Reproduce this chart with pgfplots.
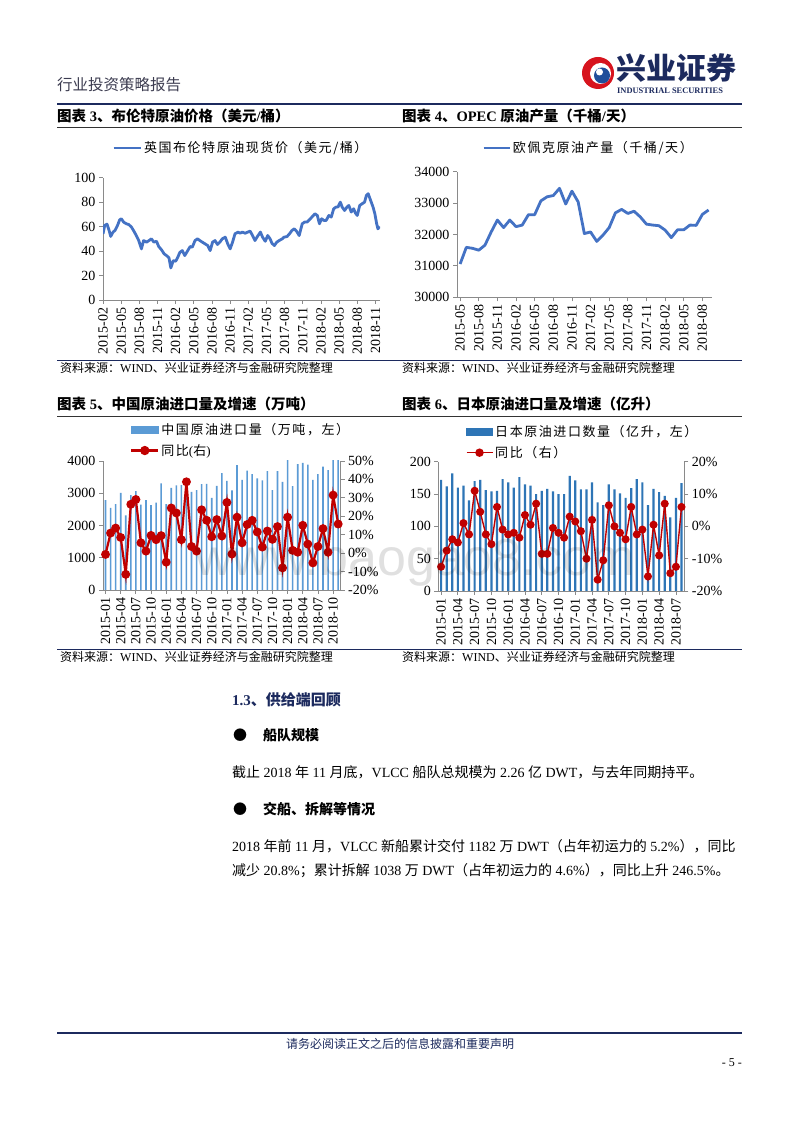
\documentclass[border=0pt]{standalone}
\usepackage{fontspec}
\usepackage{pgfplots}
\usepackage{pgfplotstable}
\pgfplotsset{compat=1.18}
\setmainfont{Liberation Serif}
\newfontfamily\cjk{Noto Sans CJK SC}
\newfontfamily\cjkwide[LetterSpace=12]{Noto Sans CJK SC}
\newfontfamily\wmfont{Liberation Sans}
\newcommand\zh[1]{{\cjk #1}}
\newcommand\fs[1]{\fontsize{#1}{#1}\selectfont}
\definecolor{navy}{HTML}{1C2A5E}
\definecolor{hdrgray}{HTML}{3C3C50}
\definecolor{axisgray}{HTML}{8A8A8A}
\definecolor{brentblue}{HTML}{4472C4}
\definecolor{chinabar}{HTML}{5B9BD5}
\definecolor{japanbar}{HTML}{2E75B6}
\definecolor{redc}{HTML}{C00000}
\definecolor{logored}{HTML}{D7141E}
\definecolor{logoblue}{HTML}{1F4E9A}

\pgfplotstableread{
m v
0 54
0.28 61
0.66 62
1.0 57
1.27 52
1.66 55.5
2.0 57
2.4 61
2.76 65.6
3.04 66.4
3.4 63.7
3.87 62.3
4.25 61.7
4.7 59.6
5.1 56.3
5.5 52.7
5.9 48.6
6.35 41.8
6.7 48.6
7.2 47.3
7.6 48.6
8.0 50
8.4 47.3
8.84 48
9.2 43.7
9.67 41
10.1 37.7
10.5 36.3
10.9 34.4
11.2 26.2
11.6 32.2
12.0 31.7
12.3 34.4
12.7 39
13.1 40.4
13.5 36.3
14.0 40.4
14.4 43.7
14.75 43.2
15.2 48.6
15.6 50
16.0 48.6
16.4 47.3
16.85 45.9
17.3 44.5
17.7 40.4
18.1 47.3
18.5 48.6
18.9 45.4
19.3 47.3
19.7 50
20.2 51.4
20.6 45.9
21.0 41.8
21.4 47.3
21.8 54.1
22.3 55.5
22.65 54.6
23.0 55.5
23.5 54.6
23.9 55.5
24.3 56.3
24.7 52.7
25.1 48.6
25.5 51.9
26.0 55.5
26.35 51.4
26.8 48
27.2 52.7
27.6 50
27.9 46.4
28.3 44.5
28.7 47.3
29.1 48.6
29.6 50
29.9 51.4
30.4 51.9
30.8 54.1
31.2 56.8
31.6 58.2
32.0 56
32.4 52.7
32.9 62.3
33.3 63.7
33.7 63.7
34.1 65.6
34.5 67.8
35.0 70.5
35.4 69.1
35.75 62.3
36.1 66.4
36.5 65
36.85 65
37.3 69.1
37.7 67.8
38.1 74.6
38.5 76
38.8 76
39.2 80
39.5 76
39.9 73.2
40.3 76
40.6 77.3
41.0 71.9
41.4 74.6
41.7 71
42.0 69.1
42.4 77.3
42.8 78.7
43.2 80
43.5 85.5
43.8 86.9
44.2 81.4
44.6 76
44.9 70.5
45.2 62.3
45.4 58.2
45.7 60.1
}\brent

\pgfplotstableread{
m v
0 31060
1 31590
2 31560
3 31500
4 31660
5 32080
6 32460
7 32220
8 32460
9 32250
10 32300
11 32630
12 32630
13 33070
14 33200
15 33240
16 33470
17 32970
18 33380
19 33040
20 32030
21 32080
22 31780
23 31980
24 32220
25 32690
26 32800
27 32670
28 32740
29 32560
30 32330
31 32300
32 32280
33 32140
34 31900
35 32150
36 32150
37 32300
38 32290
39 32640
40 32780
}\opec

\pgfplotstableread{
i v y
0 2784 -0.7
1 2545 10.9
2 2660 13.6
3 3013 8.5
4 2317 -11.5
5 2940 26.5
6 3065 29.1
7 2650 5.6
8 2784 1.1
9 2630 9.6
10 2712 7.3
11 3304 9.5
12 2660 -4.9
13 3170 24.5
14 3245 21.8
15 3252 7.3
16 3252 38.7
17 3044 3.6
18 3096 1.1
19 3283 23.5
20 3293 17.8
21 2857 8.9
22 3231 18.2
23 3626 9.3
24 3387 27.5
25 3086 -0.5
26 3875 19.5
27 3418 5.6
28 3699 15.5
29 3595 17.8
30 3460 11.5
31 3397 3.3
32 3688 12.0
33 3096 7.5
34 3688 14.4
35 3356 -8.0
36 4064 19.5
37 3220 1.5
38 3906 0.5
39 3938 15.1
40 3886 4.9
41 3418 -5.3
42 3595 3.6
43 3823 13.3
44 3719 0.5
45 4104 31.5
46 4338 15.8
}\china

\pgfplotstableread{
i v y
0 172 -12.5
1 162 -7.5
2 182 -4
3 160 -5
4 163 1
5 140 -2.5
6 170 11
7 172 4.5
8 156 -2.5
9 154 -5.5
10 155 6
11 173 -1
12 168 -2.5
13 160 -2
14 176 -3.5
15 165 3.5
16 163 0.5
17 150 7
18 155 -8.5
19 158 -8.5
20 154 -0.5
21 150 -2
22 150 -3.5
23 178 3
24 171 1.5
25 157 -1.5
26 157 -10
27 168 2
28 137 -16.5
29 133 -10.5
30 165 6.5
31 157 0
32 151 -2
33 144 -4
34 159 6
35 173 -2.5
36 168 -1
37 133 -15.5
38 158 0.5
39 153 -9
40 147 7
41 114 -14.5
42 144 -12.5
43 167 6
}\japan

\pgfplotsset{
  excel/.style={
    scale only axis,
    anchor=south west,
    axis line style={draw=axisgray, line width=0.8pt},
    tick style={draw=axisgray, line width=0.8pt},
    tick align=outside,
    major tick length=4pt,
    ticklabel style={font=\fs{14}},
    /pgf/number format/assume math mode=true,
    /pgf/number format/1000 sep={},
    scaled ticks=false,
    xticklabel style={rotate=90, anchor=east},
    legend style={draw=none, fill=none, inner sep=0pt, font=\fs{13}\cjkwide,
      legend cell align=left,
      /tikz/every even column/.append style={column sep=3pt}},
  },
}

\begin{document}
\begin{tikzpicture}[x=1pt,y=1pt]
\fill[white] (0,0) rectangle (800,1132);
\coordinate (A3) at (103,832);
\coordinate (A4) at (457,834.7);
\coordinate (A5) at (103,542);
\coordinate (A6) at (438.3,541);

% ---------- header ----------
\node[anchor=base west,inner sep=0,text=hdrgray] at (57,1041) {\fs{15.5}\cjk 行业投资策略报告};
\fill[logored] (598,1059) circle (16);
\fill[white] (600.5,1058.5) circle (10.5);
\fill[logoblue] (602,1056.5) circle (8);
\fill[white] (599.5,1060) circle (3.5);
\node[anchor=base west,inner sep=0,text=navy] at (616,1052) {\fs{30}\cjk\bfseries 兴业证券};
\node[anchor=base west,inner sep=0,text=navy] at (617,1038.5) {\fs{8.4}\bfseries INDUSTRIAL SECURITIES};
\draw[navy,line width=1.8pt] (57,1028) -- (742,1028);

% ---------- titles row 1 ----------
\node[anchor=base west,inner sep=0] at (57,1010) {\fs{14.5}\bfseries\zh{图表} 3\zh{、布伦特原油价格（美元}/\zh{桶）}};
\node[anchor=base west,inner sep=0] at (402,1010) {\fs{14.5}\bfseries\zh{图表} 4\zh{、}OPEC \zh{原油产量（千桶}/\zh{天）}};
\draw[black!80,line width=0.8pt] (57,1004.5) -- (742,1004.5);

% ---------- chart 3 ----------
\begin{axis}[excel, at={(A3)}, width=277pt, height=122.3pt,
  xmin=0, xmax=45.75, ymin=0, ymax=100,
  axis x line*=bottom, axis y line*=left,
  xtick={0,3,...,45},
  xticklabels={2015-02,2015-05,2015-08,2015-11,2016-02,2016-05,2016-08,2016-11,2017-02,2017-05,2017-08,2017-11,2018-02,2018-05,2018-08,2018-11},
  ytick={0,20,...,100},
  legend style={at={(0.0325,1.243)}, anchor=west},
  legend image code/.code={\draw[#1] (0pt,0pt) -- (27pt,0pt);},
]
\addplot[brentblue, line width=2.8pt, line join=round] table[x=m,y=v]{\brent};
\addlegendentry{英国布伦特原油现货价（美元/桶）}
\end{axis}

% ---------- chart 4 ----------
\begin{axis}[excel, at={(A4)}, width=254.7pt, height=125.6pt,
  xmin=-0.5, xmax=40.5, ymin=30000, ymax=34000,
  axis x line*=bottom, axis y line*=left,
  xtick={0,3,...,39},
  xticklabels={2015-05,2015-08,2015-11,2016-02,2016-05,2016-08,2016-11,2017-02,2017-05,2017-08,2017-11,2018-02,2018-05,2018-08},
  ytick={30000,31000,32000,33000,34000},
  yticklabels={30000,31000,32000,33000,34000},
  legend style={at={(0.098,1.189)}, anchor=west},
  legend image code/.code={\draw[#1] (0pt,0pt) -- (26pt,0pt);},
]
\addplot[brentblue, line width=2.8pt, line join=round] table[x=m,y=v]{\opec};
\addlegendentry{欧佩克原油产量（千桶/天）}
\end{axis}

% ---------- sources row 1 ----------
\draw[navy,line width=0.8pt] (57,772) -- (742,772);
\node[anchor=base west,inner sep=0] at (60,759) {\fs{12}\zh{资料来源：}WIND\zh{、兴业证券经济与金融研究院整理}};
\node[anchor=base west,inner sep=0] at (402,759) {\fs{12}\zh{资料来源：}WIND\zh{、兴业证券经济与金融研究院整理}};

% ---------- titles row 2 ----------
\node[anchor=base west,inner sep=0] at (57,722) {\fs{14.5}\bfseries\zh{图表} 5\zh{、中国原油进口量及增速（万吨）}};
\node[anchor=base west,inner sep=0] at (402,722) {\fs{14.5}\bfseries\zh{图表} 6\zh{、日本原油进口量及增速（亿升）}};
\draw[black!80,line width=0.8pt] (57,715.5) -- (742,715.5);

% ---------- chart 5 ----------
\begin{axis}[excel, at={(A5)}, width=237.7pt, height=129pt,
  xmin=-0.5, xmax=46.5, ymin=0, ymax=4000,
  axis x line*=bottom, axis y line*=left,
  xtick={0,3,...,45},
  xticklabels={2015-01,2015-04,2015-07,2015-10,2016-01,2016-04,2016-07,2016-10,2017-01,2017-04,2017-07,2017-10,2018-01,2018-04,2018-07,2018-10},
  ytick={0,1000,...,4000},
  yticklabels={0,1000,2000,3000,4000},
  ybar, bar width=1.6pt,
]
\addplot[fill=chinabar, draw=none] table[x=i,y=v]{\china};
\end{axis}
\begin{axis}[excel, at={(A5)}, width=237.7pt, height=129pt,
  xmin=-0.5, xmax=46.5, ymin=-20, ymax=50,
  axis x line=none, axis y line*=right,
  ytick={-20,-10,...,50},
  yticklabels={-20\%,-10\%,0\%,10\%,20\%,30\%,40\%,50\%},
  legend style={at={(0.1136,1.31)}, anchor=north west, row sep=4.5pt},
]
\addlegendimage{legend image code/.code={\fill[chinabar] (0pt,-3.5pt) rectangle (27pt,3.5pt);}}
\addlegendentry{中国原油进口量（万吨，左）}
\addplot[redc, line width=2.2pt, mark=*, mark size=3.3pt, mark options={fill=redc,draw=redc},
  legend image code/.code={\draw[redc,line width=2.2pt] (0pt,0pt) -- (27pt,0pt); \fill[redc] (13.5pt,0pt) circle (3.5pt);}]
  table[x=i,y=y]{\china};
\addlegendentry{同比{\rmfamily(}右{\rmfamily)}}
\end{axis}

% ---------- chart 6 ----------
\begin{axis}[excel, at={(A6)}, width=246pt, height=129.3pt,
  xmin=-0.5, xmax=43.5, ymin=0, ymax=200,
  axis x line*=bottom, axis y line*=left,
  xtick={0,3,...,42},
  xticklabels={2015-01,2015-04,2015-07,2015-10,2016-01,2016-04,2016-07,2016-10,2017-01,2017-04,2017-07,2017-10,2018-01,2018-04,2018-07},
  ytick={0,50,...,200},
  ybar, bar width=2.2pt,
]
\addplot[fill=japanbar, draw=none] table[x=i,y=v]{\japan};
\end{axis}
\begin{axis}[excel, at={(A6)}, width=246pt, height=129.3pt,
  xmin=-0.5, xmax=43.5, ymin=-20, ymax=20,
  axis x line=none, axis y line*=right,
  ytick={-20,-10,...,20},
  yticklabels={-20\%,-10\%,0\%,10\%,20\%},
  legend style={at={(0.111,1.295)}, anchor=north west, row sep=4pt},
]
\addlegendimage{legend image code/.code={\fill[japanbar] (0pt,-3.5pt) rectangle (26pt,3.5pt);}}
\addlegendentry{日本原油进口数量（亿升，左）}
\addplot[redc, line width=1.4pt, mark=*, mark size=3.3pt, mark options={fill=redc,draw=redc},
  legend image code/.code={\draw[redc,line width=1.4pt] (0pt,0pt) -- (26pt,0pt); \fill[redc] (13pt,0pt) circle (3.5pt);}]
  table[x=i,y=y]{\japan};
\addlegendentry{同比（右）}
\end{axis}

% ---------- sources row 2 ----------
\draw[navy,line width=0.8pt] (57,482.5) -- (742,482.5);
\node[anchor=base west,inner sep=0] at (60,470) {\fs{12}\zh{资料来源：}WIND\zh{、兴业证券经济与金融研究院整理}};
\node[anchor=base west,inner sep=0] at (402,470) {\fs{12}\zh{资料来源：}WIND\zh{、兴业证券经济与金融研究院整理}};

% ---------- watermark ----------
\node[anchor=base west,inner sep=0,text=black,opacity=0.12] at (195,556) {\fs{52}\wmfont www.baogao8.com};

% ---------- body text ----------
\node[anchor=base west,inner sep=0,text=navy] at (232,426) {\fs{15}\bfseries 1.3\zh{、供给端回顾}};
\node[anchor=base west,inner sep=0] at (233,391) {\fs{14}\zh{●}};
\node[anchor=base west,inner sep=0] at (263,391) {\fs{14}\bfseries\zh{船队规模}};
\node[anchor=base west,inner sep=0] at (232,354) {\fs{14}\zh{截止} 2018 \zh{年} 11 \zh{月底，}VLCC \zh{船队总规模为} 2.26 \zh{亿} DWT\zh{，与去年同期持平。}};
\node[anchor=base west,inner sep=0] at (233,317) {\fs{14}\zh{●}};
\node[anchor=base west,inner sep=0] at (263,317) {\fs{14}\bfseries\zh{交船、拆解等情况}};
\node[anchor=base west,inner sep=0] at (232,280) {\fs{14}2018 \zh{年前} 11 \zh{月，}VLCC \zh{新船累计交付} 1182 \zh{万} DWT\zh{（占年初运力的} 5.2\%\zh{），同比}};
\node[anchor=base west,inner sep=0] at (232,256) {\fs{14}\zh{减少} 20.8\%\zh{；累计拆解} 1038 \zh{万} DWT\zh{（占年初运力的} 4.6\%\zh{），同比上升} 246.5\%\zh{。}};

% ---------- footer ----------
\draw[navy,line width=1.5pt] (57,99) -- (742,99);
\node[anchor=base,inner sep=0,text=navy] at (400,83) {\fs{12}\cjk 请务必阅读正文之后的信息披露和重要声明};
\node[anchor=base east,inner sep=0] at (742,65) {\fs{12}- 5 -};
\end{tikzpicture}
\end{document}
